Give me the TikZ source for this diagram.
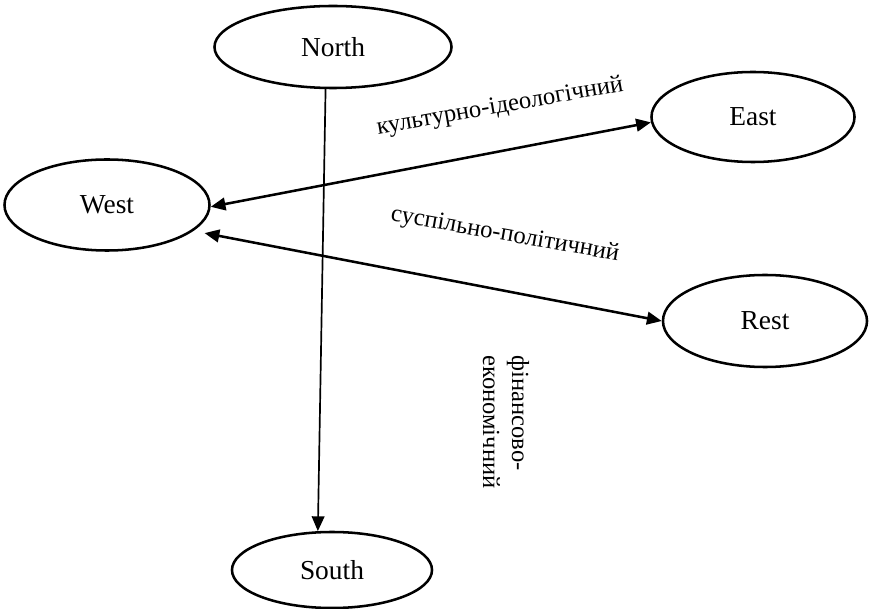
\documentclass[tikz,border=0pt]{standalone}
\usepackage{fontspec}
\setmainfont{Liberation Serif}
\usetikzlibrary{arrows.meta,shapes.geometric}

\tikzset{
  region/.style={draw,ellipse,line width=1.8pt,inner sep=0pt,font=\fontsize{19.5}{22}\selectfont},
  tip/.style={line width=1.8pt,{Triangle[length=10.5pt,width=9pt]}-{Triangle[length=10.5pt,width=9pt]}},
  caption/.style={font=\fontsize{17.5}{20.5}\selectfont,inner sep=0pt}
}

\begin{document}
\begin{tikzpicture}[x=0.025cm,y=-0.025cm]
\useasboundingbox (0,0) rectangle (869,609);
\node[region,minimum width=5.925cm,minimum height=2.05cm] (north) at (333,47) {North};
\node[region,minimum width=5.075cm,minimum height=2.25cm] (east) at (753,117) {East};
\node[region,minimum width=5.125cm,minimum height=2.275cm] (west) at (107,205) {West};
\node[region,minimum width=5.1cm,minimum height=2.3cm] (rest) at (765,321) {Rest};
\node[region,minimum width=5cm,minimum height=1.9cm] (south) at (332,570) {South};
\draw[line width=1.2pt,-{Triangle[length=10.5pt,width=9pt]}] (north.-100) -- (south.110);
\draw[tip] (west.-1) -- (east.183);
\draw[tip] ([shift={(10,3)}]west.-16) -- (rest.west);
\node[caption,rotate=10] (ideo) at (500,107) {культурно-ідеологічний};
\node[caption,rotate=-10] (polit) at (505,235) {суспільно-політичний};
\node[caption,rotate=-90,align=left] (econ) at (506,422) {фінансово-\\економічний};
\end{tikzpicture}
\end{document}
